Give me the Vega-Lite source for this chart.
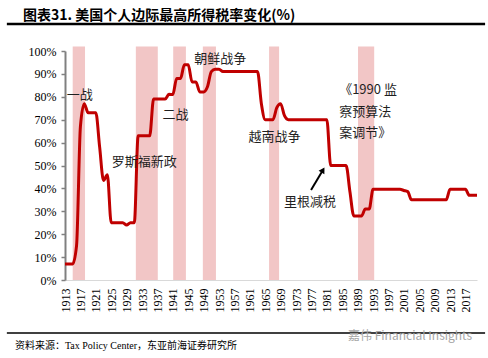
{
  "$schema": "https://vega.github.io/schema/vega-lite/v6.json",
  "width": 412,
  "height": 229,
  "autosize": {"type": "none"},
  "padding": {"left": 65, "top": 51, "right": 11, "bottom": 78},
  "background": "white",
  "config": {"view": {"stroke": null}, "font": "Liberation Serif", "axis": {"labelOverlap": false}},
  "title": {
    "text": "图表31. 美国个人边际最高所得税率变化(%)",
    "anchor": "start",
    "frame": "group",
    "font": "Noto Sans CJK SC",
    "fontSize": 14,
    "fontWeight": "bold",
    "color": "#000000",
    "dx": -42,
    "dy": 9,
    "offset": 9
  },
  "datasets": {
    "rates": [
      {"year": 1913, "rate": 7}, {"year": 1914, "rate": 7}, {"year": 1915, "rate": 7},
      {"year": 1916, "rate": 15}, {"year": 1917, "rate": 67}, {"year": 1918, "rate": 77},
      {"year": 1919, "rate": 73}, {"year": 1920, "rate": 73}, {"year": 1921, "rate": 73},
      {"year": 1922, "rate": 58}, {"year": 1923, "rate": 43.5}, {"year": 1924, "rate": 46},
      {"year": 1925, "rate": 25}, {"year": 1926, "rate": 25}, {"year": 1927, "rate": 25},
      {"year": 1928, "rate": 25}, {"year": 1929, "rate": 24}, {"year": 1930, "rate": 25},
      {"year": 1931, "rate": 25}, {"year": 1932, "rate": 63}, {"year": 1933, "rate": 63},
      {"year": 1934, "rate": 63}, {"year": 1935, "rate": 63}, {"year": 1936, "rate": 79},
      {"year": 1937, "rate": 79}, {"year": 1938, "rate": 79}, {"year": 1939, "rate": 79},
      {"year": 1940, "rate": 81.1}, {"year": 1941, "rate": 81}, {"year": 1942, "rate": 88},
      {"year": 1943, "rate": 88}, {"year": 1944, "rate": 94}, {"year": 1945, "rate": 94},
      {"year": 1946, "rate": 86.45}, {"year": 1947, "rate": 86.45}, {"year": 1948, "rate": 82.13},
      {"year": 1949, "rate": 82.13}, {"year": 1950, "rate": 84.36}, {"year": 1951, "rate": 91},
      {"year": 1952, "rate": 92}, {"year": 1953, "rate": 92}, {"year": 1954, "rate": 91},
      {"year": 1955, "rate": 91}, {"year": 1956, "rate": 91}, {"year": 1957, "rate": 91},
      {"year": 1958, "rate": 91}, {"year": 1959, "rate": 91}, {"year": 1960, "rate": 91},
      {"year": 1961, "rate": 91}, {"year": 1962, "rate": 91}, {"year": 1963, "rate": 91},
      {"year": 1964, "rate": 77}, {"year": 1965, "rate": 70}, {"year": 1966, "rate": 70},
      {"year": 1967, "rate": 70}, {"year": 1968, "rate": 75.25}, {"year": 1969, "rate": 77},
      {"year": 1970, "rate": 71.75}, {"year": 1971, "rate": 70}, {"year": 1972, "rate": 70},
      {"year": 1973, "rate": 70}, {"year": 1974, "rate": 70}, {"year": 1975, "rate": 70},
      {"year": 1976, "rate": 70}, {"year": 1977, "rate": 70}, {"year": 1978, "rate": 70},
      {"year": 1979, "rate": 70}, {"year": 1980, "rate": 70}, {"year": 1981, "rate": 70},
      {"year": 1982, "rate": 50}, {"year": 1983, "rate": 50}, {"year": 1984, "rate": 50},
      {"year": 1985, "rate": 50}, {"year": 1986, "rate": 50}, {"year": 1987, "rate": 38.5},
      {"year": 1988, "rate": 28}, {"year": 1989, "rate": 28}, {"year": 1990, "rate": 28},
      {"year": 1991, "rate": 31}, {"year": 1992, "rate": 31}, {"year": 1993, "rate": 39.6},
      {"year": 1994, "rate": 39.6}, {"year": 1995, "rate": 39.6}, {"year": 1996, "rate": 39.6},
      {"year": 1997, "rate": 39.6}, {"year": 1998, "rate": 39.6}, {"year": 1999, "rate": 39.6},
      {"year": 2000, "rate": 39.6}, {"year": 2001, "rate": 39.1}, {"year": 2002, "rate": 38.6},
      {"year": 2003, "rate": 35}, {"year": 2004, "rate": 35}, {"year": 2005, "rate": 35},
      {"year": 2006, "rate": 35}, {"year": 2007, "rate": 35}, {"year": 2008, "rate": 35},
      {"year": 2009, "rate": 35}, {"year": 2010, "rate": 35}, {"year": 2011, "rate": 35},
      {"year": 2012, "rate": 35}, {"year": 2013, "rate": 39.6}, {"year": 2014, "rate": 39.6},
      {"year": 2015, "rate": 39.6}, {"year": 2016, "rate": 39.6}, {"year": 2017, "rate": 39.6},
      {"year": 2018, "rate": 37}, {"year": 2019, "rate": 37}, {"year": 2020, "rate": 37}
    ],
    "wars": [
      {"start": 1915.0, "end": 1918.2},
      {"start": 1931.4, "end": 1937.1},
      {"start": 1941.1, "end": 1944.4},
      {"start": 1948.8, "end": 1952.2},
      {"start": 1966.0, "end": 1968.6},
      {"start": 1989.1, "end": 1993.3}
    ],
    "notesCenter": [
      {"year": 1916.8, "rate": 81, "label": "一战"},
      {"year": 1953.3, "rate": 96.5, "label": "朝鲜战争"},
      {"year": 1941.7, "rate": 72, "label": "二战"},
      {"year": 1933.6, "rate": 51.5, "label": "罗斯福新政"},
      {"year": 1967.4, "rate": 62.4, "label": "越南战争"},
      {"year": 1976.6, "rate": 34.1, "label": "里根减税"}
    ],
    "notesLeft": [
      {"year": 1984.2, "rate": 83.0, "label": "《1990 监"},
      {"year": 1984.2, "rate": 73.4, "label": "察预算法"},
      {"year": 1984.2, "rate": 64.2, "label": "案调节》"}
    ],
    "arrow": [
      {"year": 1976.9, "rate": 39.3, "year2": 1980.0, "rate2": 48.0}
    ]
  },
  "layer": [
    {
      "data": {"name": "wars"},
      "mark": {"type": "rect", "color": "#F2C6C6"},
      "encoding": {
        "x": {"field": "start", "type": "quantitative", "scale": {"domain": [1913, 2020], "nice": false, "zero": false}},
        "x2": {"field": "end"},
        "y": {"datum": 0, "type": "quantitative", "scale": {"domain": [0, 100], "nice": false}},
        "y2": {"datum": 102}
      }
    },
    {
      "data": {"name": "rates"},
      "mark": {"type": "line", "color": "#C00000", "strokeWidth": 3, "interpolate": "monotone"},
      "encoding": {
        "x": {
          "field": "year", "type": "quantitative",
          "scale": {"domain": [1913, 2020], "nice": false, "zero": false},
          "axis": {
            "title": null, "grid": false, "ticks": false, "tickCount": 40,
            "values": [1913, 1917, 1921, 1925, 1929, 1933, 1937, 1941, 1945, 1949, 1953, 1957, 1961, 1965, 1969, 1973, 1977, 1981, 1985, 1989, 1993, 1997, 2001, 2005, 2009, 2013, 2017],
            "format": "d", "labelAngle": -90, "labelFont": "Liberation Serif", "labelFontSize": 12,
            "labelColor": "#000000", "labelPadding": 8, "domainColor": "#D9D9D9", "domainWidth": 1,
            "labelOverlap": false
          }
        },
        "y": {
          "field": "rate", "type": "quantitative",
          "scale": {"domain": [0, 100], "nice": false},
          "axis": {
            "title": null, "grid": false, "tickCount": 20,
            "values": [0, 10, 20, 30, 40, 50, 60, 70, 80, 90, 100],
            "labelExpr": "datum.value + '%'", "labelFont": "Liberation Serif", "labelFontSize": 12,
            "labelColor": "#000000", "labelPadding": 5, "domainColor": "#808080", "domainWidth": 2,
            "tickColor": "#808080", "tickSize": 4, "tickWidth": 1.5, "labelOverlap": false
          }
        }
      }
    },
    {
      "data": {"name": "notesCenter"},
      "mark": {"type": "text", "font": "Noto Sans CJK SC", "fontSize": 13, "color": "#1F1F1F", "align": "center", "baseline": "middle"},
      "encoding": {
        "x": {"field": "year", "type": "quantitative"},
        "y": {"field": "rate", "type": "quantitative"},
        "text": {"field": "label"}
      }
    },
    {
      "data": {"name": "notesLeft"},
      "mark": {"type": "text", "font": "Noto Sans CJK SC", "fontSize": 13, "color": "#1F1F1F", "align": "left", "baseline": "middle"},
      "encoding": {
        "x": {"field": "year", "type": "quantitative"},
        "y": {"field": "rate", "type": "quantitative"},
        "text": {"field": "label"}
      }
    },
    {
      "data": {"name": "arrow"},
      "mark": {"type": "rule", "color": "#000000", "strokeWidth": 2},
      "encoding": {
        "x": {"field": "year", "type": "quantitative"},
        "y": {"field": "rate", "type": "quantitative"},
        "x2": {"field": "year2"},
        "y2": {"field": "rate2"}
      }
    },
    {
      "data": {"name": "arrow"},
      "mark": {"type": "point", "shape": "triangle-up", "filled": true, "color": "#000000", "size": 45, "angle": 31, "opacity": 1},
      "encoding": {
        "x": {"field": "year2", "type": "quantitative"},
        "y": {"field": "rate2", "type": "quantitative"}
      }
    },
    {
      "data": {"values": [{}]},
      "mark": {"type": "rule", "color": "#000000", "strokeWidth": 2.5},
      "encoding": {
        "x": {"datum": 1897.9, "type": "quantitative"},
        "x2": {"datum": 2022.1},
        "y": {"datum": 111.8, "type": "quantitative"}
      }
    },
    {
      "data": {"values": [{}]},
      "mark": {"type": "rule", "color": "#000000", "strokeWidth": 1.5},
      "encoding": {
        "x": {"datum": 1897.9, "type": "quantitative"},
        "x2": {"datum": 2022.1},
        "y": {"datum": -23.1, "type": "quantitative"}
      }
    },
    {
      "data": {"values": [{}]},
      "mark": {"type": "text", "font": "Liberation Serif, Noto Sans CJK SC", "fontSize": 10, "color": "#000000", "align": "left", "baseline": "middle"},
      "encoding": {
        "x": {"datum": 1900.0, "type": "quantitative"},
        "y": {"datum": -28.8, "type": "quantitative"},
        "text": {"value": "资料来源：Tax Policy Center，东亚前海证券研究所"}
      }
    },
    {
      "data": {"values": [{}]},
      "mark": {"type": "text", "font": "Noto Sans CJK SC", "fontSize": 12, "color": "#A6A6A6", "align": "left", "baseline": "middle"},
      "encoding": {
        "x": {"datum": 1986.5, "type": "quantitative"},
        "y": {"datum": -24.5, "type": "quantitative"},
        "text": {"value": "嘉伟 Financial Insights"}
      }
    }
  ]
}
